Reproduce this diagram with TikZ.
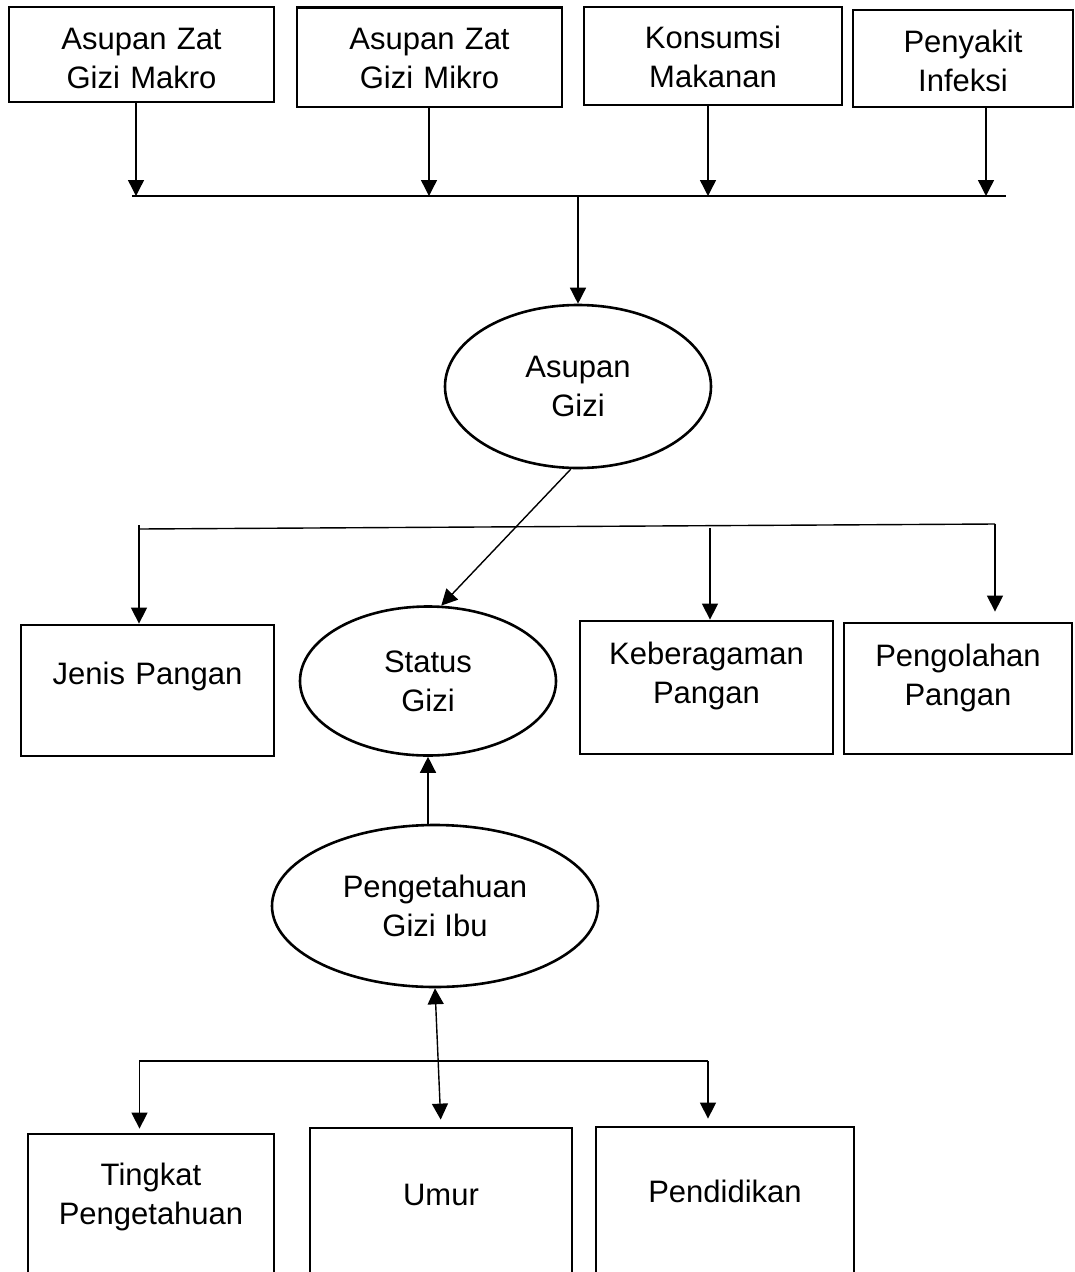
\documentclass[tikz,border=0pt]{standalone}
\usepackage{fontspec}
\setmainfont{Liberation Sans}
\usepackage{tikz}
\usetikzlibrary{shapes.geometric,arrows.meta}
\tikzset{>={Triangle[length=16pt,width=16pt]}}
\tikzset{
  box/.style={draw,line width=2.8pt,inner sep=0pt,align=center,anchor=base},
  oval/.style={draw,ellipse,line width=2.6pt,inner sep=0pt,align=center},
  link/.style={line width=1.4pt},
}

\begin{document}
\begin{tikzpicture}[x=1pt,y=-1pt,font=\fontsize{31pt}{39pt}\selectfont]
  \useasboundingbox (0,0) rectangle (1075,1272);
  \clip (0,0) rectangle (1075,1272);

  % Top boxes
  \node[box,text width=265pt,text height=42pt,text depth=53pt] at (141.5,49) (makro) {Asupan Zat\\Gizi Makro};
  \node[box,text width=265pt,text height=41.5pt,text depth=58pt] at (429.5,49) (mikro) {Asupan Zat\\Gizi Mikro};
  \node[box,text width=258pt,text height=41.5pt,text depth=56.5pt] at (713,48.5) (konsumsi) {Konsumsi\\Makanan};
  \node[box,text width=220pt,text height=42pt,text depth=55pt] at (963,52) (infeksi) {Penyakit\\Infeksi};

  % Ovals
  \node[oval,minimum width=266pt,minimum height=163pt] at (578,386.5) (asupan) {Asupan\\Gizi};
  \node[oval,minimum width=256pt,minimum height=149pt] at (428,681) (status) {Status\\Gizi};
  \node[oval,minimum width=326pt,minimum height=162pt] at (435,906) (ilmu) {Pengetahuan\\Gizi Ibu};

  % Middle boxes
  \node[box,text width=253pt,text height=59pt,text depth=72pt] at (147.5,684) (jenis) {Jenis Pangan};
  \node[box,text width=253pt,text height=43pt,text depth=90pt] at (706.5,664) (ragam) {Keberagaman\\Pangan};
  \node[box,text width=228pt,text height=43pt,text depth=88pt] at (958,666) (olah) {Pengolahan\\Pangan};

  % Bottom boxes
  \node[box,text width=246pt,text height=51pt,text depth=140pt] at (151,1185) (tingkat) {Tingkat\\Pengetahuan};
  \node[box,text width=262pt,text height=77pt,text depth=120pt] at (441,1205) (umur) {Umur};
  \node[box,text width=258pt,text height=75pt,text depth=120pt] at (725,1202) (didik) {Pendidikan};

  % Bus lines
  \coordinate (topw) at (132,196);
  \coordinate (tope) at (1006,196);
  \coordinate (midw) at (139,529);
  \coordinate (mide) at (995,524);
  \coordinate (botw) at (139.5,1061);
  \coordinate (bote) at (708,1061);

  % Arrows
  \foreach \src/\x in {makro/136,mikro/429,konsumsi/708,infeksi/986}
    \draw[link,->] (\src.south -| \x,0) -- (\x,196);
  \draw[link] (topw) -- (tope);
  \draw[link,->] (asupan.north |- topw) -- (asupan.north);
  \draw[link,->] (asupan.265) -- (status.80);

  \draw[link] (midw) -- (mide);
  \draw[link,->] (139,525) -- (jenis.north -| midw);
  \draw[link,->] (710,528) -- (ragam.north -| 710,0);
  \draw[link,->,shorten >=10pt] (mide) -- (olah.north -| mide);

  \draw[link,->] (ilmu.north -| status.south) -- (status.south);
  \draw[link,<->,shorten >=7pt] (ilmu.south) -- (umur.north);
  \draw[link,->,shorten >=4pt] (bote) -- (botw) -- (tingkat.north -| botw);
  \draw[link,->,shorten >=7pt] (bote) -- (didik.north -| bote);
\end{tikzpicture}
\end{document}
